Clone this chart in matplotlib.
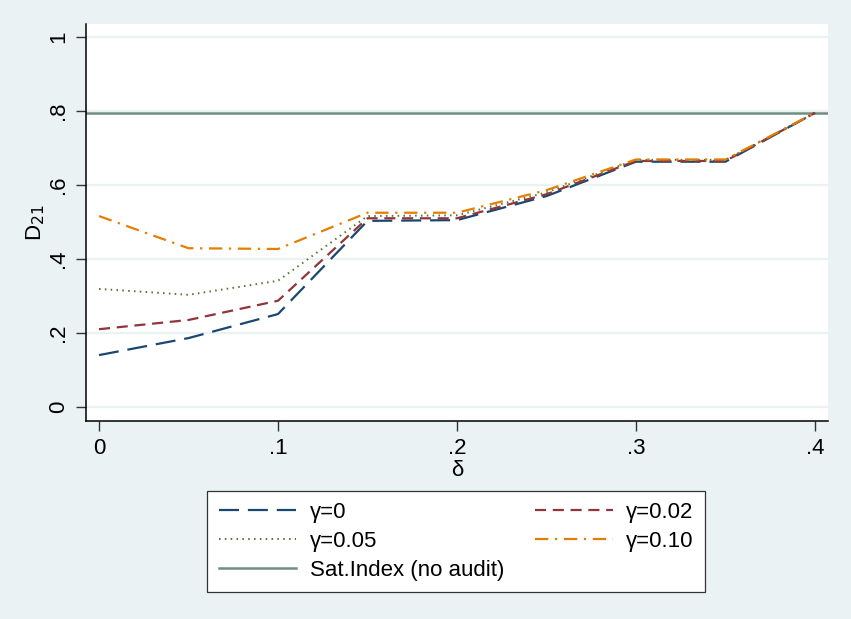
import matplotlib.pyplot as plt

plt.rcParams['font.family'] = ['Liberation Sans', 'DejaVu Sans']

delta = [0, 0.05, 0.1, 0.15, 0.2, 0.25, 0.3, 0.35, 0.4]
g000 = [0.140, 0.186, 0.251, 0.503, 0.505, 0.570, 0.663, 0.663, 0.795]
g002 = [0.210, 0.235, 0.287, 0.510, 0.510, 0.575, 0.665, 0.665, 0.795]
g005 = [0.319, 0.303, 0.341, 0.516, 0.518, 0.580, 0.668, 0.668, 0.795]
g010 = [0.516, 0.429, 0.427, 0.525, 0.525, 0.586, 0.669, 0.669, 0.795]
sat_index = 0.795

y_ticks = [0, 0.2, 0.4, 0.6, 0.8, 1.0]
y_labels = ["0", ".2", ".4", ".6", ".8", "1"]
x_ticks = [0, 0.1, 0.2, 0.3, 0.4]
x_labels = ["0", ".1", ".2", ".3", ".4"]

bg = "#EAF2F3"
fig = plt.figure(figsize=(8.51, 6.19), dpi=100, facecolor=bg)
ax = fig.add_axes([0.101, 0.320, 0.872, 0.641])
ax.set_facecolor("white")

for y in y_ticks:
    ax.axhline(y, color=bg, lw=1.6, zorder=0)

l_sat = ax.axhline(sat_index, color="#6E8E84", lw=1.8, zorder=1,
                   label="Sat.Index (no audit)")
l0, = ax.plot(delta, g000, color="#1A476F", lw=1.6, dashes=(9, 4),
              label="γ=0", zorder=3)
l2, = ax.plot(delta, g002, color="#90353B", lw=1.6, dashes=(5, 3),
              label="γ=0.02", zorder=3)
l5, = ax.plot(delta, g005, color="#55752F", lw=1.4, dashes=(0.8, 2.2),
              label="γ=0.05", zorder=3)
l10, = ax.plot(delta, g010, color="#E37E00", lw=1.6, dashes=(6, 3, 1, 3),
               label="γ=0.10", zorder=3)

ax.set_xlim(-0.0073, 0.4073)
ax.set_ylim(-0.038, 1.035)
ax.set_yticks(y_ticks)
ax.set_yticklabels(y_labels, rotation=90, va="center")
ax.set_xticks(x_ticks)
ax.set_xticklabels(x_labels)
ax.tick_params(axis="both", labelsize=16, length=7, width=1, direction="out",
               color="#333333", pad=5)
for s in ["top", "right"]:
    ax.spines[s].set_visible(False)
for s in ["left", "bottom"]:
    ax.spines[s].set_color("black")
    ax.spines[s].set_linewidth(1.1)

ax.set_xlabel("δ", fontsize=16, labelpad=1)
ax.set_ylabel("D$_{21}$", fontsize=16, labelpad=1)

handles = [l0, l5, l_sat, l2, l10]
leg = fig.legend(handles=handles, labels=[h.get_label() for h in handles],
                 ncol=2, loc="upper center", bbox_to_anchor=(0.536, 0.207),
                 borderaxespad=0, fontsize=16, frameon=True, fancybox=False,
                 edgecolor="#333333", facecolor="white", framealpha=1,
                 handlelength=3.5, handletextpad=0.6, columnspacing=1.4,
                 labelspacing=0.35, borderpad=0.5)
leg.get_frame().set_linewidth(0.9)

fig.savefig("out.png", dpi=100, facecolor=bg)
